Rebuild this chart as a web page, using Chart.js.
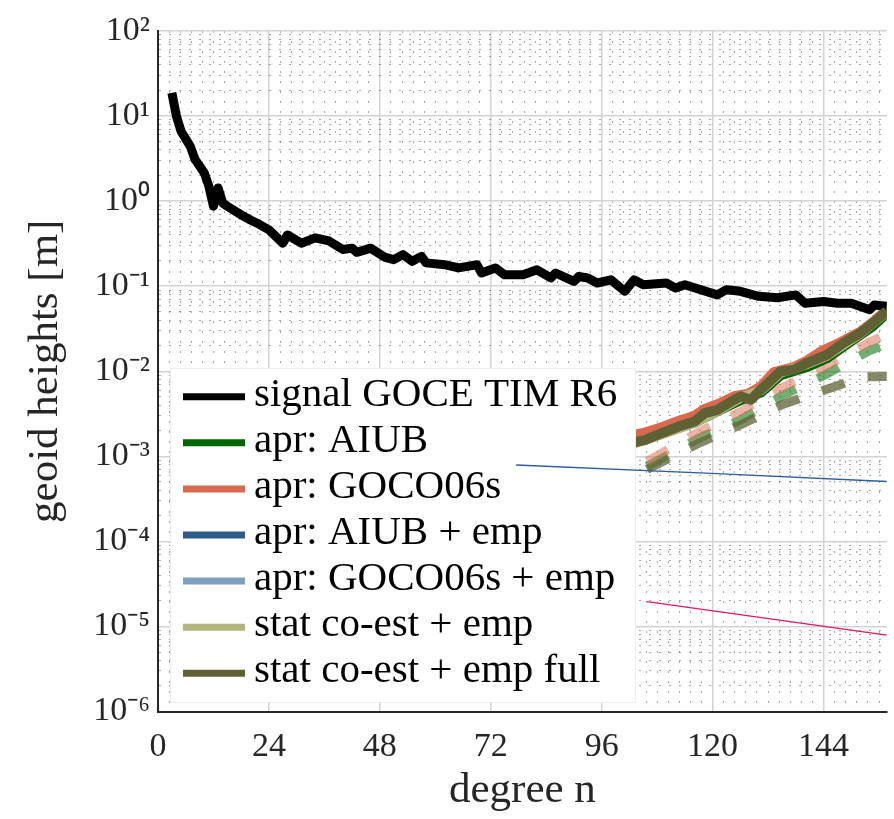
<!DOCTYPE html>
<html>
<head>
<meta charset="utf-8">
<title>geoid heights per degree</title>
<script src="https://cdn.jsdelivr.net/npm/chart.js@4.4.1/dist/chart.umd.min.js"></script>
<style>
  html, body { margin: 0; padding: 0; background: #fff; overflow: hidden; }
  canvas { display: block; }
  .fontwarm { position: absolute; left: 0; top: 0; opacity: 0; font-family: "Liberation Serif"; font-size: 20px; }
</style>
</head>
<body>
<span class="fontwarm">degree n 10⁻¹</span>
<canvas id="geoidChart" width="894" height="819"></canvas>
<script>
// degree axis
const xTicks = [0, 24, 48, 72, 96, 120, 144];
const xMax = 157.7;
// log axis, decades 1e-6 .. 1e2
const yExponents = [-6, -5, -4, -3, -2, -1, 0, 1, 2];

// signal GOCE TIM R6
const signalDeg = [3, 4, 5, 7, 8, 10, 11, 12, 13, 14, 15, 18, 20, 22, 24, 27, 28, 31, 34, 37,
  40, 42, 43, 46, 49, 51, 53, 55, 57, 58, 62, 65, 67, 69, 70, 73, 75, 79, 82, 85,
  86, 90, 91, 93, 95, 98, 101, 103, 105, 110, 112, 114, 121, 123, 126, 130, 134, 138, 140, 144,
  147, 150, 154, 155, 157.7];
const signalVal = [18.7, 9.9, 6.6, 4.4, 3.1, 2.15, 1.5, 0.87, 1.43, 0.95, 0.87, 0.69, 0.6, 0.53, 0.46, 0.32, 0.40, 0.32, 0.37, 0.34,
  0.27, 0.28, 0.25, 0.28, 0.22, 0.205, 0.235, 0.196, 0.224, 0.188, 0.179, 0.164, 0.171, 0.179, 0.143, 0.164, 0.136, 0.136, 0.156, 0.125,
  0.143, 0.114, 0.13, 0.125, 0.109, 0.119, 0.087, 0.119, 0.104, 0.109, 0.095, 0.104, 0.079, 0.091, 0.087, 0.076, 0.073, 0.079, 0.063, 0.066,
  0.063, 0.063, 0.053, 0.06, 0.058];

// apr: AIUB
const aiubDeg = [102, 109, 116.1, 121.1, 126.1, 130.4, 134.7, 140.4, 144.7, 148.3, 154.7, 157.7];
const aiubVal = [1.40e-3, 1.85e-3, 2.5e-3, 3.4e-3, 4.6e-3, 5.6e-3, 9.0e-3, 1.12e-2, 1.42e-2, 1.95e-2, 3.4e-2, 4.8e-2];
// apr: GOCO06s
const gocoDeg = [102, 105.4, 109, 112.6, 116.1, 118.3, 121.1, 124.7, 127.5, 130.4, 133.3, 137.6, 140.4, 143.4, 147, 151.9, 154.7, 157.7];
const gocoVal = [1.75e-3, 1.9e-3, 2.2e-3, 2.6e-3, 3.0e-3, 3.6e-3, 4.1e-3, 5.1e-3, 5.4e-3, 6.6e-3, 9.8e-3, 1.12e-2, 1.33e-2, 1.7e-2, 2.1e-2, 2.9e-2, 3.8e-2, 5.3e-2];
// apr: AIUB + emp / apr: GOCO06s + emp (no visible curve)
const aiubEmpDeg = [];
const aiubEmpVal = [];
const gocoEmpDeg = [];
const gocoEmpVal = [];
// stat co-est + emp
const coestDeg = [102, 109, 116.1, 121.1, 126.1, 130.4, 134.7, 140.4, 144.7, 151.9, 157.7];
const coestVal = [1.36e-3, 1.82e-3, 2.5e-3, 3.42e-3, 4.9e-3, 5.9e-3, 9.6e-3, 1.21e-2, 1.52e-2, 2.75e-2, 5.0e-2];
// stat co-est + emp full
const fullDeg = [102, 105.4, 109, 112.6, 116.1, 118.3, 121.1, 124.7, 126.1, 128.3, 130.4, 134.7, 137.6, 140.4, 144.7, 148.3, 151.9, 154.7, 157.7];
const fullVal = [1.42e-3, 1.56e-3, 1.87e-3, 2.24e-3, 2.56e-3, 3.22e-3, 3.52e-3, 4.62e-3, 5.06e-3, 4.62e-3, 6.05e-3, 9.95e-3, 1.04e-2, 1.25e-2, 1.56e-2, 2.15e-2, 2.81e-2, 3.69e-2, 5.1e-2];

// dashed (faded) companions
const gocoDashDeg = [105.8, 117.2, 126.1, 135.0, 144.4, 153.6, 156.2];
const gocoDashVal = [8.7e-4, 1.96e-3, 3.37e-3, 6.4e-3, 1.13e-2, 2.16e-2, 2.5e-2];
const aiubDashDeg = [105.8, 117.2, 126.1, 135.0, 144.4, 153.6, 156.2];
const aiubDashVal = [7.6e-4, 1.65e-3, 2.69e-3, 5.15e-3, 9.1e-3, 1.71e-2, 1.95e-2];
const fullDashDeg = [105.8, 117.2, 126.1, 135.0, 144.4, 152.5, 157.7];
const fullDashVal = [7.0e-4, 1.44e-3, 2.35e-3, 4.04e-3, 6.05e-3, 8.6e-3, 8.7e-3];

// thin straight lines
const thinBlueDeg = [77.5, 119.7, 157.7];
const thinBlueVal = [7.9e-4, 6.3e-4, 5.06e-4];
const thinRedDeg = [105.8, 119.7, 157.7];
const thinRedVal = [1.96e-5, 1.53e-5, 7.9e-6];

const serif = '"Liberation Serif", serif';
const sup = { '-': '\u207B', '0': '\u2070', '1': '\u00B9', '2': '\u00B2', '3': '\u00B3', '4': '\u2074',
  '5': '\u2075', '6': '\u2076', '7': '\u2077', '8': '\u2078', '9': '\u2079' };

function pts(deg, val) {
  return deg.map((d, i) => ({ x: d, y: val[i] }));
}

function isMajorX(v) { return Math.abs(v / 24 - Math.round(v / 24)) < 1e-6; }
function isMajorY(v) { const l = Math.log10(v); return Math.abs(l - Math.round(l)) < 1e-6; }

// legend box, painted between the thick curves and the thin lines
function drawLegend(chart) {
  const { ctx, chartArea } = chart;
  const items = chart.data.datasets.filter(d => d.inLegend);
  const rowH = 46.1, padTop = 28.7, padBottom = 29.7, boxW = 466;
  const h = padTop + rowH * (items.length - 1) + padBottom;
  const x0 = chartArea.left + 12;
  const y0 = chartArea.bottom - 8.5 - h;
  ctx.save();
  ctx.setLineDash([]);
  ctx.fillStyle = '#fff';
  ctx.fillRect(x0, y0, boxW, h);
  ctx.strokeStyle = '#eeeeee';
  ctx.lineWidth = 1;
  ctx.strokeRect(x0 + 0.5, y0 + 0.5, boxW - 1, h - 1);
  ctx.font = '41px ' + serif;
  ctx.textBaseline = 'alphabetic';
  items.forEach((d, i) => {
    const y = y0 + padTop + i * rowH;
    ctx.strokeStyle = d.borderColor;
    ctx.lineWidth = 7;
    ctx.beginPath();
    ctx.moveTo(x0 + 13, y);
    ctx.lineTo(x0 + 75, y);
    ctx.stroke();
    ctx.fillStyle = '#000';
    ctx.fillText(d.label, x0 + 84, y + 9);
  });
  ctx.restore();
}

const legendBox = {
  id: 'legendBox',
  beforeDatasetsDraw(chart) { chart.$legendDone = false; },
  beforeDatasetDraw(chart, args) {
    if (!chart.$legendDone && chart.data.datasets[args.index].thin) {
      drawLegend(chart);
      chart.$legendDone = true;
    }
  },
  afterDatasetsDraw(chart) {
    if (!chart.$legendDone) { drawLegend(chart); chart.$legendDone = true; }
  }
};

const solid = (label, deg, val, color, width, order) => ({
  label, data: pts(deg, val), borderColor: color, borderWidth: width, order, inLegend: true
});
const dashed = (label, deg, val, color, order) => ({
  label, data: pts(deg, val), borderColor: color, borderWidth: 9, borderDash: [24, 24], order
});

const minorColor = 'rgba(0,0,0,0.34)';
const majorColor = '#d4d4d4';
const minorDash = [2, 8];

function buildChart() {
  new Chart(document.getElementById('geoidChart'), {
    type: 'line',
    data: {
      datasets: [
        solid('signal GOCE TIM R6', signalDeg, signalVal, '#000000', 9, 2),
        solid('apr: AIUB', aiubDeg, aiubVal, '#006600', 10, 5),
        solid('apr: GOCO06s', gocoDeg, gocoVal, '#d9694f', 10, 4),
        solid('apr: AIUB + emp', aiubEmpDeg, aiubEmpVal, '#2e5a8c', 10, 9),
        solid('apr: GOCO06s + emp', gocoEmpDeg, gocoEmpVal, '#7f9fc1', 10, 9),
        solid('stat co-est + emp', coestDeg, coestVal, '#b4b47d', 10, 3),
        solid('stat co-est + emp full', fullDeg, fullVal, '#5f6135', 10, 1),
        dashed('apr: AIUB (dashed)', aiubDashDeg, aiubDashVal, 'rgba(0,110,0,0.55)', 8),
        dashed('apr: GOCO06s (dashed)', gocoDashDeg, gocoDashVal, 'rgba(217,105,79,0.5)', 6),
        dashed('stat co-est + emp full (dashed)', fullDashDeg, fullDashVal, 'rgba(95,97,53,0.75)', 7),
        { label: 'thin blue', data: pts(thinBlueDeg, thinBlueVal), borderColor: '#2f5d9e', borderWidth: 1.3, order: 0, thin: true },
        { label: 'thin red', data: pts(thinRedDeg, thinRedVal), borderColor: '#e8175d', borderWidth: 1.3, order: 0, thin: true }
      ]
    },
    options: {
      responsive: false,
      animation: false,
      devicePixelRatio: 1,
      layout: { padding: { top: 31, right: 0, bottom: 0, left: 0 } },
      elements: {
        point: { radius: 0, hoverRadius: 0 },
        line: { tension: 0, borderJoinStyle: 'round', borderCapStyle: 'butt' }
      },
      plugins: {
        legend: { display: false },
        tooltip: { enabled: false }
      },
      scales: {
        x: {
          type: 'linear',
          min: 0,
          max: xMax,
          afterBuildTicks: axis => {
            const t = [];
            for (let k = 0; k * 2.4 <= xMax; k++) t.push({ value: Math.round(k * 24) / 10 });
            axis.ticks = t;
          },
          afterFit: s => { s.height = 107.5; },
          ticks: {
            autoSkip: false,
            maxRotation: 0,
            padding: 15,
            color: '#262626',
            font: { family: serif, size: 34 },
            callback: v => (isMajorX(v) && xTicks.includes(Math.round(v)) ? String(Math.round(v)) : '')
          },
          grid: {
            drawTicks: false,
            color: c => (c.tick && isMajorX(c.tick.value) ? majorColor : minorColor),
            lineWidth: c => (c.tick && isMajorX(c.tick.value) ? 1.5 : 1)
          },
          border: {
            display: true,
            color: '#262626',
            width: 2,
            dash: c => (c.type === 'tick' && c.tick && !isMajorX(c.tick.value) ? minorDash : [])
          },
          title: {
            display: true,
            text: 'degree n',
            color: '#262626',
            font: { family: serif, size: 43, lineHeight: 1 },
            padding: { top: 0, bottom: 7 }
          }
        },
        y: {
          type: 'logarithmic',
          min: 1e-6,
          max: 1e2,
          afterBuildTicks: axis => {
            const t = [];
            yExponents.forEach(e => {
              const top = e === yExponents[yExponents.length - 1] ? 1 : 9;
              for (let k = 1; k <= top; k++) t.push({ value: k * Math.pow(10, e) });
            });
            axis.ticks = t;
          },
          afterFit: s => { s.width = 158; },
          ticks: {
            autoSkip: false,
            padding: 8,
            color: '#262626',
            font: { family: serif, size: 34 },
            callback: v => {
              if (!isMajorY(v)) return '';
              const e = String(Math.round(Math.log10(v)));
              return '10' + e.split('').map(ch => sup[ch]).join('');
            }
          },
          grid: {
            drawTicks: false,
            color: c => (c.tick && isMajorY(c.tick.value) ? majorColor : minorColor),
            lineWidth: c => (c.tick && isMajorY(c.tick.value) ? 1.5 : 1)
          },
          border: {
            display: true,
            color: '#262626',
            width: 2,
            dash: c => (c.type === 'tick' && c.tick && !isMajorY(c.tick.value) ? minorDash : [])
          },
          title: {
            display: true,
            text: 'geoid heights [m]',
            color: '#262626',
            font: { family: serif, size: 43, lineHeight: 1 },
            padding: { top: 24, bottom: 0 }
          }
        }
      }
    },
    plugins: [legendBox]
  });
}

// make sure the serif face is ready before the canvas text is drawn
Promise.all([
  document.fonts.load('41px "Liberation Serif"'),
  document.fonts.load('34px "Liberation Serif"', '10\u207B\u00B9')
]).then(buildChart, buildChart);
</script>
</body>
</html>
